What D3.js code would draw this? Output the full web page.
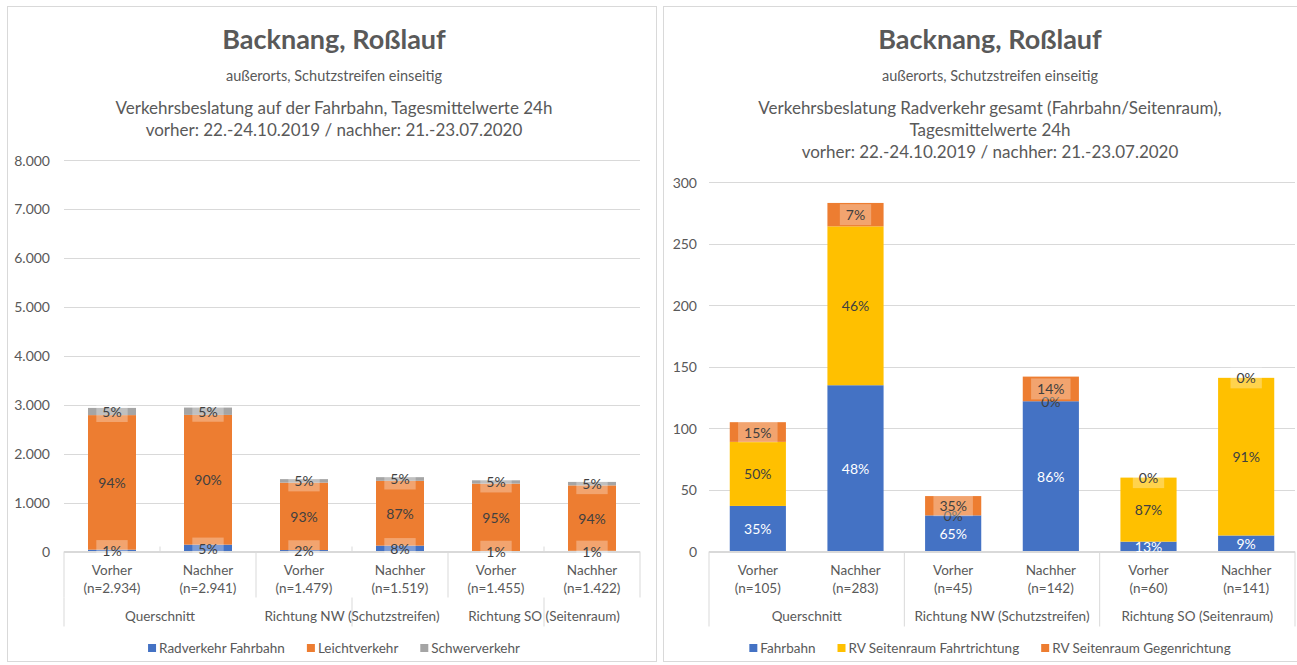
<!DOCTYPE html>
<html lang="de">
<head>
<meta charset="utf-8">
<style>
  body { margin: 0; background: #fff; }
  svg { font-family: Lato, "Open Sans", sans-serif; }
  .frame { fill: #fff; stroke: #d9d9d9; stroke-width: 1px; }
  .grid { stroke: #d9d9d9; stroke-width: 1px; }
  .divider { stroke: #d9d9d9; stroke-width: 1px; }
  .tick { fill: #595959; font-size: 14px; }
  .cat, .legend text { fill: #595959; font-size: 13.5px; }
  .title { fill: #595959; font-weight: bold; font-size: 27px; }
  .sub0 { fill: #595959; font-size: 14.5px; }
  .sub { fill: #595959; font-size: 17px; }
  .seglabel { font-size: 14px; }
</style>
</head>
<body>
<svg width="1297" height="665"></svg>
<script src="https://cdn.jsdelivr.net/npm/d3@7"></script>
<script>
// categories
var groups = ["Querschnitt", "Richtung NW (Schutzstreifen)", "Richtung SO (Seitenraum)"];
var phases = ["Vorher", "Nachher"];

// left chart: Verkehrsbelastung auf der Fahrbahn
var kfzSeries = ["Radverkehr Fahrbahn", "Leichtverkehr", "Schwerverkehr"];
var kfzRad    = [37, 140, 30, 120, 10, 14];
var kfzLeicht = [2750, 2651, 1377, 1324, 1377, 1337];
var kfzSchwer = [147, 150, 72, 75, 68, 71];
var kfzTicks  = [0, 1000, 2000, 3000, 4000, 5000, 6000, 7000, 8000];

// right chart: Radverkehr gesamt
var radSeries        = ["Fahrbahn", "RV Seitenraum Fahrtrichtung", "RV Seitenraum Gegenrichtung"];
var radFahrbahn      = [37, 135, 29.3, 122, 8, 13];
var radFahrtrichtung = [52, 129, 0, 0, 52, 128];
var radGegenrichtung = [16, 19, 15.7, 20, 0, 0];
var radTicks         = [0, 50, 100, 150, 200, 250, 300];

var de = d3.formatLocale({decimal: ",", thousands: ".", grouping: [3], currency: ["", " €"]});
var fmtNum = de.format(",.0f");
var fmtPct = d3.format(".0%");

var svg = d3.select("svg");

function drawChart(cfg) {
    var g = svg.append("g");

    g.append("rect").attr("class", "frame")
        .attr("x", cfg.frame[0]).attr("y", 6.5)
        .attr("width", cfg.frame[1] - cfg.frame[0]).attr("height", 655);

    // titles
    g.selectAll(".titleline").data(cfg.titles).enter().append("text")
        .attr("class", function (d, i) { return i === 0 ? "title" : (i === 1 ? "sub0" : "sub"); })
        .attr("x", cfg.center)
        .attr("y", function (d, i) { return cfg.titleY[i]; })
        .attr("text-anchor", "middle")
        .attr("dominant-baseline", "central")
        .text(function (d) { return d; });

    // one slot per (group, phase)
    var cats = [];
    groups.forEach(function (grp, gi) {
        phases.forEach(function (ph) { cats.push({group: grp, gi: gi, phase: ph}); });
    });
    cats.forEach(function (c, i) {
        c.values = cfg.series.map(function (s) { return s[i]; });
        c.total = d3.sum(c.values);
    });

    var x = d3.scaleBand().domain(d3.range(cats.length)).range([cfg.plotLeft, cfg.plotRight]).padding(0);
    var y = d3.scaleLinear().domain([0, cfg.ticks[cfg.ticks.length - 1]]).range([cfg.yBottom, cfg.yTop]);
    var step = x.step();
    var barW = step * cfg.barFrac;

    // gridlines + tick labels
    g.selectAll(".grid").data(cfg.ticks).enter().append("line")
        .attr("class", "grid")
        .attr("x1", cfg.plotLeft).attr("x2", cfg.plotRight)
        .attr("y1", function (d) { return Math.round(y(d)) + 0.5; })
        .attr("y2", function (d) { return Math.round(y(d)) + 0.5; });
    g.selectAll(".tick").data(cfg.ticks).enter().append("text")
        .attr("class", "tick")
        .attr("x", cfg.tickX)
        .attr("y", function (d) { return y(d); })
        .attr("text-anchor", "end")
        .attr("dominant-baseline", "central")
        .text(function (d) { return cfg.tickFmt(d); });

    // stacked bars
    var stack = d3.stack().keys(d3.range(cfg.series.length))
        .value(function (c, k) { return c.values[k]; });
    var layers = stack(cats);

    g.selectAll(".layer").data(layers).enter().append("g")
        .attr("fill", function (d, i) { return cfg.colors[i]; })
        .selectAll("rect").data(function (d) { return d; }).enter().append("rect")
        .attr("x", function (d, i) { return x(i) + (step - barW) / 2; })
        .attr("width", barW)
        .attr("y", function (d) { return y(d[1]); })
        .attr("height", function (d) { return y(d[0]) - y(d[1]); });

    // category axis
    var yA = cfg.yBottom;
    var bandMid = yA + 46, bandEnd = yA + 75;
    g.append("line").attr("class", "divider")
        .attr("x1", cfg.plotLeft).attr("x2", cfg.plotRight)
        .attr("y1", yA).attr("y2", yA);

    var groupEdges = d3.range(groups.length + 1).map(function (k) { return x(0) + k * step * phases.length; });
    if (cfg.offsetGroupTicks) {
        // upper band: group boundaries
        groupEdges.forEach(function (gx) {
            g.append("line").attr("class", "divider")
                .attr("x1", gx).attr("x2", gx).attr("y1", yA).attr("y2", bandMid);
        });
        // short ticks between phases
        groups.forEach(function (grp, gi) {
            var mx = groupEdges[gi] + step;
            g.append("line").attr("class", "divider")
                .attr("x1", mx).attr("x2", mx).attr("y1", yA - 5).attr("y2", yA);
        });
        // lower band lines as Excel drew them
        groups.forEach(function (grp, gi) {
            var lx = gi === 0 ? groupEdges[0] : groupEdges[gi] + step;
            g.append("line").attr("class", "divider")
                .attr("x1", lx).attr("x2", lx).attr("y1", bandMid).attr("y2", bandEnd);
        });
    } else {
        groupEdges.forEach(function (gx) {
            g.append("line").attr("class", "divider")
                .attr("x1", gx).attr("x2", gx).attr("y1", yA).attr("y2", bandEnd);
        });
    }

    var catText = g.selectAll(".cat").data(cats).enter().append("text")
        .attr("class", "cat")
        .attr("text-anchor", "middle")
        .attr("x", function (d, i) { return x(i) + step / 2; });
    catText.append("tspan").attr("x", function (d, i) { return x(i) + step / 2; })
        .attr("y", yA + 23).text(function (d) { return d.phase; });
    catText.append("tspan").attr("x", function (d, i) { return x(i) + step / 2; })
        .attr("y", yA + 41).text(function (d) { return "(n=" + fmtNum(d.total) + ")"; });

    g.selectAll(".grp").data(groups).enter().append("text")
        .attr("class", "cat")
        .attr("text-anchor", "middle")
        .attr("x", function (d, gi) { return groupEdges[gi] + step; })
        .attr("y", yA + 69)
        .text(function (d) { return d; });

    // data labels, series by series
    layers.forEach(function (layer, si) {
        layer.forEach(function (d, i) {
            var cx = x(i) + step / 2;
            var cy = y((d[0] + d[1]) / 2);
            var val = d[1] - d[0];
            var lab = g.append("g");
            var box = lab.append("rect");
            var t = lab.append("text")
                .attr("class", "seglabel")
                .attr("x", cx).attr("y", cy)
                .attr("text-anchor", "middle")
                .attr("dominant-baseline", "central")
                .attr("fill", cfg.labelColors[si])
                .text(fmtPct(val / d.data.total));
            if (cfg.boxSeries.indexOf(si) >= 0) {
                var w = t.node().getComputedTextLength() + 12;
                box.attr("x", cx - w / 2).attr("y", cy - 10.5)
                    .attr("width", w).attr("height", 21)
                    .attr("fill", "#fff").attr("fill-opacity", 0.3);
            } else {
                box.remove();
            }
        });
    });

    // legend
    var gap = 22;
    var leg = g.append("g").attr("class", "legend");
    var items = leg.selectAll("g").data(cfg.names).enter().append("g");
    items.append("rect").attr("width", 8).attr("height", 8).attr("y", -4)
        .attr("fill", function (d, i) { return cfg.colors[i]; });
    items.append("text").attr("x", 11).attr("dominant-baseline", "central")
        .text(function (d) { return d; });
    var pos = 0;
    items.each(function () {
        var tw = d3.select(this).select("text").node().getComputedTextLength();
        d3.select(this).attr("transform", "translate(" + pos + ",0)");
        pos += 11 + tw + gap;
    });
    pos -= gap;
    leg.attr("transform", "translate(" + (cfg.center - pos / 2) + "," + cfg.legendY + ")");
}

drawChart({
    frame: [7.5, 656.5],
    center: 334,
    titles: ["Backnang, Roßlauf", "außerorts, Schutzstreifen einseitig",
             "Verkehrsbeslatung auf der Fahrbahn, Tagesmittelwerte 24h",
             "vorher: 22.-24.10.2019 / nachher: 21.-23.07.2020"],
    titleY: [38, 75, 107, 129],
    plotLeft: 64, plotRight: 640,
    yTop: 160, yBottom: 551.5,
    ticks: kfzTicks,
    tickFmt: fmtNum,
    tickX: 50,
    series: [kfzRad, kfzLeicht, kfzSchwer],
    names: kfzSeries,
    colors: ["#4472C4", "#ED7D31", "#A5A5A5"],
    labelColors: ["#404040", "#404040", "#404040"],
    boxSeries: [0, 2],
    barFrac: 0.5,
    offsetGroupTicks: true,
    legendY: 648
});

drawChart({
    frame: [663.5, 1330],
    center: 990,
    titles: ["Backnang, Roßlauf", "außerorts, Schutzstreifen einseitig",
             "Verkehrsbeslatung Radverkehr gesamt (Fahrbahn/Seitenraum),",
             "Tagesmittelwerte 24h",
             "vorher: 22.-24.10.2019 / nachher: 21.-23.07.2020"],
    titleY: [38, 75, 107, 129, 151],
    plotLeft: 709, plotRight: 1295,
    yTop: 182, yBottom: 551.5,
    ticks: radTicks,
    tickFmt: fmtNum,
    tickX: 697,
    series: [radFahrbahn, radFahrtrichtung, radGegenrichtung],
    names: radSeries,
    colors: ["#4472C4", "#FFC000", "#ED7D31"],
    labelColors: ["#ffffff", "#404040", "#404040"],
    boxSeries: [2],
    barFrac: 0.575,
    offsetGroupTicks: false,
    legendY: 648
});
</script>
</body>
</html>
